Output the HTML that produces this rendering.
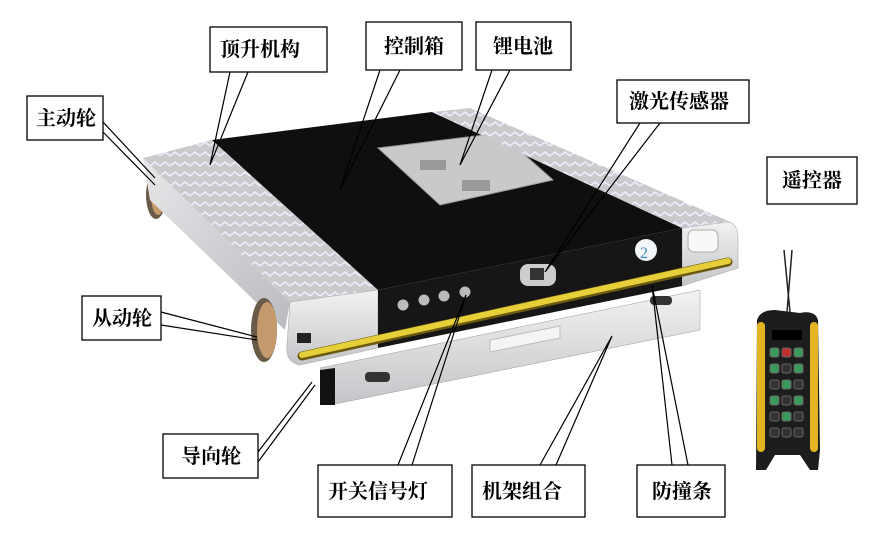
<!DOCTYPE html>
<html><head><meta charset="utf-8"><style>
html,body{margin:0;padding:0;background:#fff;}
svg{display:block}
text{font-family:"Liberation Serif","Noto Serif CJK SC","Noto Sans CJK SC",serif;font-size:20px;font-weight:bold;fill:#000}
</style></head><body>
<svg width="883" height="549" viewBox="0 0 883 549" xmlns="http://www.w3.org/2000/svg">
<defs>
<linearGradient id="sil" x1="0" y1="0" x2="1" y2="1"><stop offset="0" stop-color="#e6e7e9"/><stop offset="1" stop-color="#b9bbbe"/></linearGradient>
<linearGradient id="sil2" x1="0" y1="0" x2="0" y2="1"><stop offset="0" stop-color="#f2f2f2"/><stop offset="1" stop-color="#c4c5c8"/></linearGradient>
<pattern id="tread" width="10" height="10" patternUnits="userSpaceOnUse"><rect width="10" height="10" fill="#c9cacc"/><path d="M0 6 L5 2 L10 6" stroke="#eef" stroke-width="1.5" fill="none"/></pattern>
</defs>
<polygon points="320,368 700,290 700,330 330,405" fill="url(#sil2)" stroke="#999" stroke-width="0.5"/>
<polygon points="320,370 335,368 335,405 320,405" fill="#111"/>
<rect x="365" y="372" width="25" height="10" rx="4" fill="#333"/>
<rect x="650" y="296" width="22" height="9" rx="4" fill="#333"/>
<polygon points="490,340 560,326 560,338 490,352" fill="#f4f4f4" stroke="#bbb"/>
<ellipse cx="156" cy="195" rx="10" ry="24" fill="#6a5a48"/>
<ellipse cx="158" cy="195" rx="7" ry="20" fill="#c49a6c"/>
<polygon points="143,158 212,140 378,290 290,302" fill="url(#tread)"/>
<polygon points="143,158 290,302 285,330 150,200" fill="url(#sil)"/>
<ellipse cx="264" cy="330" rx="13" ry="32" fill="#6a5a48"/>
<ellipse cx="267" cy="330" rx="10" ry="28" fill="#c49a6c"/>
<path d="M290,302 L378,290 L378,348 L300,365 Q285,362 287,345 Z" fill="url(#sil2)" stroke="#aaa" stroke-width="0.6"/>
<rect x="297" y="333" width="14" height="10" fill="#222"/>
<polygon points="212,140 432,112 682,228 378,290" fill="#0f0f0f"/>
<polygon points="378,148 500,133 553,180 440,205" fill="#c9c9c9" stroke="#999"/>
<rect x="420" y="160" width="26" height="10" fill="#999"/>
<rect x="462" y="180" width="28" height="11" fill="#999"/>
<polygon points="432,112 470,108 735,224 682,228" fill="url(#tread)"/>
<path d="M682,228 L728,222 Q738,224 738,238 L738,268 L682,286 Z" fill="url(#sil2)" stroke="#aaa" stroke-width="0.6"/>
<rect x="688" y="230" width="30" height="22" rx="6" fill="#f8f8f8" stroke="#aaa"/>
<polygon points="378,290 682,228 682,286 378,348" fill="#161616"/>
<circle cx="646" cy="250" r="11" fill="#f2f6f8"/>
<text x="640" y="258" style="font-size:16px;fill:#3a8ab8;font-weight:normal">2</text>
<rect x="520" y="264" width="36" height="22" rx="8" fill="#ccc"/>
<rect x="530" y="268" width="14" height="12" fill="#333"/>
<circle cx="403" cy="305" r="5.5" fill="#bbb"/><circle cx="424" cy="300" r="5.5" fill="#bbb"/><circle cx="444" cy="296" r="5.5" fill="#bbb"/><circle cx="465" cy="292" r="5.5" fill="#bbb"/>
<line x1="302" y1="356" x2="728" y2="262" stroke="#6b5a10" stroke-width="9" stroke-linecap="round"/>
<line x1="302" y1="355" x2="728" y2="261" stroke="#e7cf3a" stroke-width="6" stroke-linecap="round"/>
<line x1="784" y1="250" x2="790" y2="312" stroke="#222" stroke-width="1.5"/>
<line x1="792" y1="250" x2="787" y2="312" stroke="#222" stroke-width="1.5"/>
<path d="M757,320 Q760,310 775,310 L800,313 Q815,310 818,320 L820,450 L818,470 L810,470 L800,455 L775,455 L766,470 L756,470 Z" fill="#1d1d1d"/>
<rect x="757" y="322" width="8" height="130" rx="4" fill="#e3b422"/>
<rect x="810" y="322" width="8" height="130" rx="4" fill="#e3b422"/>
<rect x="772" y="330" width="30" height="10" fill="#000"/>
<g stroke="#666" stroke-width="1">
<rect x="770" y="348" width="9" height="9" rx="2" fill="#3a9a5a"/><rect x="782" y="348" width="9" height="9" rx="2" fill="#c03030"/><rect x="794" y="348" width="9" height="9" rx="2" fill="#3a9a5a"/>
<rect x="770" y="364" width="9" height="9" rx="2" fill="#3a9a5a"/><rect x="782" y="364" width="9" height="9" rx="2" fill="#333"/><rect x="794" y="364" width="9" height="9" rx="2" fill="#3a9a5a"/>
<rect x="770" y="380" width="9" height="9" rx="2" fill="#333"/><rect x="782" y="380" width="9" height="9" rx="2" fill="#3a9a5a"/><rect x="794" y="380" width="9" height="9" rx="2" fill="#333"/>
<rect x="770" y="396" width="9" height="9" rx="2" fill="#3a9a5a"/><rect x="782" y="396" width="9" height="9" rx="2" fill="#333"/><rect x="794" y="396" width="9" height="9" rx="2" fill="#3a9a5a"/>
<rect x="770" y="412" width="9" height="9" rx="2" fill="#333"/><rect x="782" y="412" width="9" height="9" rx="2" fill="#3a9a5a"/><rect x="794" y="412" width="9" height="9" rx="2" fill="#333"/>
<rect x="770" y="428" width="9" height="9" rx="2" fill="#333"/><rect x="782" y="428" width="9" height="9" rx="2" fill="#333"/><rect x="794" y="428" width="9" height="9" rx="2" fill="#333"/>
</g>
<g stroke="#000" stroke-width="1.2" fill="none">
<path d="M230,72 L210,165 L248,72"/>
<path d="M380,70 L340,190 L400,70"/>
<path d="M492,70 L460,165 L510,70"/>
<path d="M640,123 L545,272 L660,123"/>
<path d="M103,122 L155,178 M103,132 L155,185"/>
<path d="M161,312 L257,337 M161,325 L257,340"/>
<path d="M258,452 L312,382 M258,462 L315,385"/>
<path d="M398,465 L466,295 L412,465"/>
<path d="M540,465 L612,336 L556,465"/>
<path d="M672,465 L652,285 L688,465"/>
</g>
<g fill="#fff" stroke="#000" stroke-width="1.3">
<rect x="27" y="96" width="76" height="44"/>
<rect x="210" y="27" width="117" height="45"/>
<rect x="366" y="22" width="96" height="48"/>
<rect x="476" y="22" width="95" height="48"/>
<rect x="617" y="80" width="132" height="43"/>
<rect x="767" y="157" width="90" height="47"/>
<rect x="82" y="296" width="79" height="44"/>
<rect x="163" y="434" width="95" height="44"/>
<rect x="318" y="465" width="134" height="52"/>
<rect x="472" y="465" width="113" height="52"/>
<rect x="637" y="465" width="88" height="52"/>
</g>
<text x="36" y="125">主动轮</text>
<text x="220" y="56">顶升机构</text>
<text x="384" y="53">控制箱</text>
<text x="493" y="53">锂电池</text>
<text x="629" y="108">激光传感器</text>
<text x="782" y="187">遥控器</text>
<text x="92" y="325">从动轮</text>
<text x="181" y="463">导向轮</text>
<text x="328" y="498">开关信号灯</text>
<text x="482" y="498">机架组合</text>
<text x="652" y="498">防撞条</text>
</svg>
</body></html>
